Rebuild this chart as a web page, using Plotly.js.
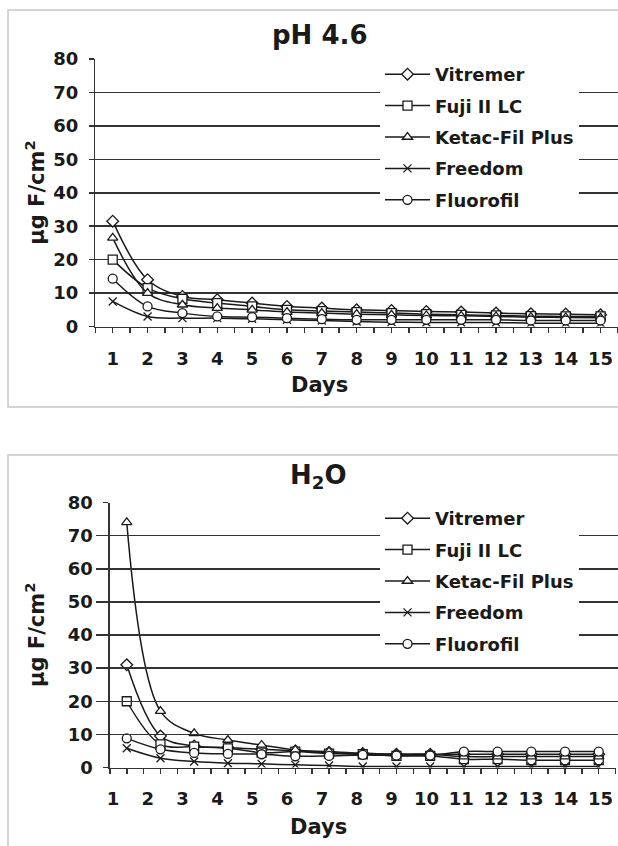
<!DOCTYPE html>
<html>
<head>
<meta charset="utf-8">
<script src="https://cdn.plot.ly/plotly-3.0.1.min.js"></script>
<style>
html,body{margin:0;padding:0;background:#fff;}
#chart{width:618px;height:846px;}
</style>
</head>
<body>
<div id="chart"></div>
<script>
// ---- data ----
const days = [1,2,3,4,5,6,7,8,9,10,11,12,13,14,15];
const dayLabels = ['1','2','3','4','5','6','7','8','9','10','11','12','13','14','15'];
const seriesNames = ['Vitremer','Fuji II LC','Ketac-Fil Plus','Freedom','Fluorofil'];
const yTicks = [0,10,20,30,40,50,60,70,80];

// pH 4.6
const ph46Vitremer = [31.5,14,9,8,7,6,5.5,5,4.8,4.5,4.3,4,3.8,3.7,3.5];
const ph46Fuji     = [20,11.5,8.3,7,6,5,4.6,4.3,4,3.7,3.5,3.3,3.1,3,3];
const ph46Ketac    = [26.5,10,6.5,5.5,5,4.3,4,3.7,3.5,3.3,3.2,3,2.8,2.7,2.6];
const ph46Freedom  = [7.5,3,2.5,2.5,2.3,2,1.8,1.5,1.3,1.2,1.2,1.2,1,1,1];
const ph46Fluoro   = [14.3,6,4,3,2.8,2.5,2.2,2,2,2,2,2,1.8,1.8,1.8];

// H2O
const h2oVitremer = [31,9.5,6.5,6,5.5,5,4.5,4.2,4,4,4,4,4,4,4];
const h2oFuji     = [20,7,6.3,5.8,4.5,4.8,4.2,4,3.5,3.5,2.5,2.5,2.2,2.2,2.2];
const h2oKetac    = [74,17,10.3,8.3,6.8,5.3,4.8,4.3,4,4,3.3,3.3,3.3,3.3,3.3];
const h2oFreedom  = [5.8,2.8,1.8,1.3,1.1,0.8,0.6,0.3,0.3,0.3,0.3,0.3,0.3,0.3,0.3];
const h2oFluoro   = [8.8,5.5,4.4,4.1,4,3.4,3.5,3.8,3.6,3.6,4.8,4.8,4.8,4.8,4.8];

// ---- styling ----
const FONT = 'DejaVu Sans, Verdana, sans-serif';
const INK = '#1a1a1a';
const symbols = ['diamond','square','triangle-up','x-thin','circle'];
const sizes = [9,9,9,8,9];
const W = 618, H = 846;
const fx = p => p / W;
const fy = p => 1 - p / H;

function mk(name, i, ys, xa, ya, legend, grp) {
  return {
    type: 'scatter', mode: 'lines+markers', name: name,
    x: days, y: ys, xaxis: xa, yaxis: ya, legend: legend, legendgroup: grp,
    line: {color: INK, width: 1.5, shape: 'spline', smoothing: 1},
    marker: {symbol: symbols[i], size: sizes[i], color: i === 3 ? INK : '#ffffff',
             line: {color: INK, width: 1.3}},
    hoverinfo: 'x+y+name'
  };
}

const topSets = [ph46Vitremer, ph46Fuji, ph46Ketac, ph46Freedom, ph46Fluoro];
const botSets = [h2oVitremer, h2oFuji, h2oKetac, h2oFreedom, h2oFluoro];
const data = [];
topSets.forEach((ys, i) => data.push(mk(seriesNames[i], i, ys, 'x', 'y', 'legend', 't' + i)));
botSets.forEach((ys, i) => data.push(mk(seriesNames[i], i, ys, 'x2', 'y2', 'legend2', 'b' + i)));
// empty carrier for the bottom label axis
data.push({type: 'scatter', x: [], y: [], xaxis: 'x3', yaxis: 'y2', showlegend: false, hoverinfo: 'skip'});

const tickFont = {family: FONT, size: 18, color: INK, weight: 'bold'};
const minorTicks = {tick0: 0.5, dtick: 0.5, ticks: 'outside', ticklen: 5, tickwidth: 1.5, tickcolor: '#333', showgrid: false};

function xAxis(domain, anchor, showLabels) {
  return {
    domain: domain, anchor: anchor, range: [0.5, 15.5],
    tickmode: 'array', tickvals: days, ticktext: dayLabels,
    ticks: 'outside', ticklen: 5, tickwidth: 1.5, tickcolor: '#333',
    minor: minorTicks,
    showline: true, linecolor: '#333', linewidth: 1.5,
    showgrid: false, zeroline: false,
    showticklabels: showLabels, tickfont: tickFont, ticklabelstandoff: 10,
    fixedrange: true
  };
}
function yAxis(domain, anchor) {
  return {
    domain: domain, anchor: anchor, range: [0, 80],
    tickmode: 'array', tickvals: yTicks,
    ticks: 'outside', ticklen: 5, tickwidth: 1.5, tickcolor: '#333',
    showline: true, linecolor: '#333', linewidth: 1.5,
    showgrid: true, gridcolor: '#333', gridwidth: 1.5,
    zeroline: false, tickfont: tickFont, ticklabelstandoff: 7,
    fixedrange: true
  };
}

const legendBase = {
  xanchor: 'left', yanchor: 'top', bgcolor: '#ffffff', borderwidth: 0,
  font: {family: FONT, size: 18, color: INK, weight: 'bold'},
  tracegroupgap: 5, traceorder: 'grouped', itemwidth: 45
};

const layout = {
  width: W, height: H,
  margin: {l: 0, r: 0, t: 0, b: 0, pad: 0},
  paper_bgcolor: '#ffffff', plot_bgcolor: 'rgba(0,0,0,0)',
  font: {family: FONT, color: INK},
  showlegend: true,
  xaxis: xAxis([fx(95.3), 1], 'y', true),
  yaxis: yAxis([fy(326.5), fy(59)], 'x'),
  xaxis2: xAxis([fx(109.9), fx(615.6)], 'y2', false),
  yaxis2: yAxis([fy(767.5), fy(502.5)], 'x2'),
  xaxis3: {
    domain: [fx(95.5), 1], anchor: 'y2', range: [0.5, 15.5],
    tickmode: 'array', tickvals: days, ticktext: dayLabels,
    ticks: '', showline: false, showgrid: false, zeroline: false,
    showticklabels: true, tickfont: tickFont, ticklabelstandoff: 18, fixedrange: true
  },
  legend: Object.assign({}, legendBase, {x: fx(380), y: fy(56)}),
  legend2: Object.assign({}, legendBase, {x: fx(380), y: fy(500)}),
  shapes: [
    {type: 'rect', xref: 'paper', yref: 'paper', x0: fx(8), x1: 1.05, y0: fy(407), y1: fy(10),
     line: {color: '#c8c8c8', width: 1.5}, fillcolor: 'rgba(0,0,0,0)', layer: 'below'},
    {type: 'rect', xref: 'paper', yref: 'paper', x0: fx(8), x1: 1.05, y0: -0.05, y1: fy(455),
     line: {color: '#c8c8c8', width: 1.5}, fillcolor: 'rgba(0,0,0,0)', layer: 'below'}
  ],
  annotations: [
    {text: 'pH 4.6', xref: 'paper', yref: 'paper', x: fx(319), y: fy(35), xanchor: 'center', yanchor: 'middle',
     showarrow: false, font: {family: FONT, size: 26, color: INK, weight: 'bold'}},
    {text: 'H<sub>2</sub>O', xref: 'paper', yref: 'paper', x: fx(318), y: fy(476), xanchor: 'center', yanchor: 'middle',
     showarrow: false, font: {family: FONT, size: 26, color: INK, weight: 'bold'}},
    {text: 'Days', xref: 'paper', yref: 'paper', x: fx(319), y: fy(385), xanchor: 'center', yanchor: 'middle',
     showarrow: false, font: {family: FONT, size: 21, color: INK, weight: 'bold'}},
    {text: 'Days', xref: 'paper', yref: 'paper', x: fx(318), y: fy(827), xanchor: 'center', yanchor: 'middle',
     showarrow: false, font: {family: FONT, size: 21, color: INK, weight: 'bold'}},
    {text: 'μg F/cm<sup>2</sup>', xref: 'paper', yref: 'y domain', x: fx(35), y: 0.5, textangle: -90,
     xanchor: 'center', yanchor: 'middle', showarrow: false,
     font: {family: FONT, size: 21, color: INK, weight: 'bold'}},
    {text: 'μg F/cm<sup>2</sup>', xref: 'paper', yref: 'y2 domain', x: fx(35), y: 0.5, textangle: -90,
     xanchor: 'center', yanchor: 'middle', showarrow: false,
     font: {family: FONT, size: 21, color: INK, weight: 'bold'}}
  ]
};

Plotly.newPlot('chart', data, layout, {displayModeBar: false, staticPlot: true});
</script>
</body>
</html>
